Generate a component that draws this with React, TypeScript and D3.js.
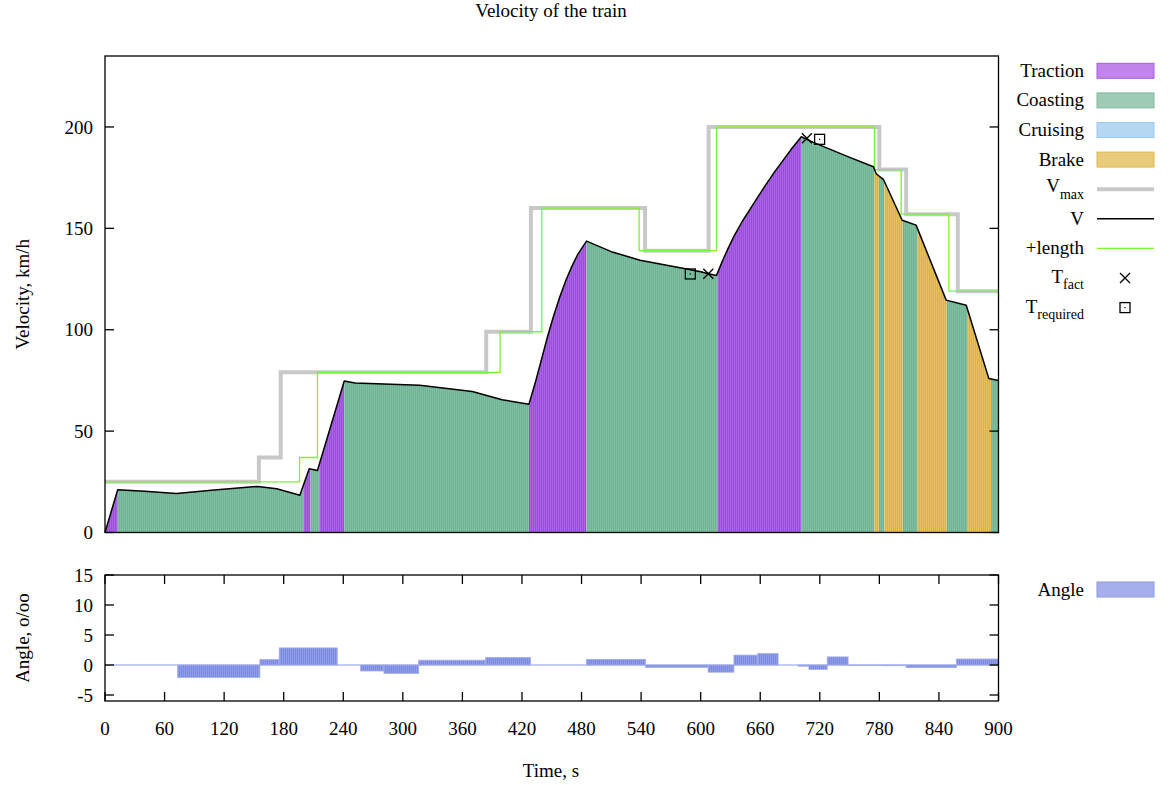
import * as d3 from "d3"

// axis ticks
const timeTicks = [0, 60, 120, 180, 240, 300, 360, 420, 480, 540, 600, 660, 720, 780, 840, 900]
const velTicks = [0, 50, 100, 150, 200]
const angleTicks = [-5, 0, 5, 10, 15]

// speed limit (step changes)
const vmaxT = [0, 155, 177, 384, 429, 544, 608, 780, 807, 859, 900]
const vmaxV = [25, 37, 79, 99, 160, 139, 200, 179, 157, 119, 119]

// speed limit shifted by train length
const lenT = [0, 196, 214, 398, 440, 538, 616, 775, 802, 850, 900]
const lenV = [25, 37, 79, 99, 160, 139, 200, 179, 157, 119, 119]

// train velocity
const speedT = [0, 12.8, 40, 72, 110, 154, 173, 196.3, 205.7, 214, 241, 252, 317, 370, 400, 427,
    434, 440, 446, 452, 458, 464, 470, 476, 485, 510, 539, 586, 600, 608, 616,
    622, 628, 634, 642, 650, 658, 666, 675, 683, 692, 701.4,
    713, 747, 774, 777, 784, 803, 817, 847.3, 867.5, 890.3, 900]
const speedV = [0, 21.1, 20.3, 19.2, 21, 22.7, 21.6, 18.4, 31.4, 30.6, 74.7, 73.7, 72.6, 69.5, 65.5, 63.2,
    75, 86, 97, 107, 116, 124, 131, 137, 143.7, 138.5, 134.3, 129.9, 128.6, 127.6, 126.8,
    134, 140.5, 146.5, 153.5, 159.6, 165.8, 171.8, 178.2, 183.5, 189.5, 195.2,
    192.5, 185.6, 180.4, 176.8, 174.2, 154, 151.6, 114.6, 112.1, 75.9, 75]

// driving modes
const phaseStart = [0, 12.8, 200, 207, 216, 241, 427, 485, 617, 701.4, 775, 779.5, 785, 803.5, 818.5, 848, 869, 892.5]
const phaseEnd = [12.8, 200, 207, 216, 241, 427, 485, 617, 701.4, 775, 779.5, 785, 803.5, 818.5, 848, 869, 892.5, 900]
const phaseKind = ["traction", "coasting", "traction", "coasting", "traction", "coasting", "traction", "coasting",
    "traction", "coasting", "brake", "coasting", "brake", "coasting", "brake", "coasting", "brake", "coasting"]

// stop times
const factT = [607.7, 707]
const factV = [127.6, 194.4]
const reqT = [589.6, 719.8]
const reqV = [127.5, 193.9]

// track gradient
const angleT = [0, 73, 156, 175.5, 234, 257.5, 281, 316, 383.5, 428.5, 485, 544.5, 607.5, 633.5, 657.5, 678,
    698, 709, 727.5, 748.5, 783.5, 807, 857.5, 900]
const angleV = [0, -2.1, 0.9, 2.85, 0, -1.0, -1.4, 0.8, 1.25, 0, 0.95, -0.4, -1.2, 1.65, 1.9, 0,
    -0.2, -0.75, 1.35, -0.05, -0.12, -0.45, 1.0]

const fills: Record<string, { base: string, stripe: string }> = {
    traction: { base: "#9b4fdc", stripe: "#a862e2" },
    coasting: { base: "#6fb494", stripe: "#7fbea1" },
    brake: { base: "#ddb243", stripe: "#e4c060" },
    angle: { base: "#7c8bdf", stripe: "#8f9de6" },
}

const legendBoxes = [
    { label: "Traction", fill: "#c084ea", stroke: "#a35ee0" },
    { label: "Coasting", fill: "#9fcbb6", stroke: "#80b99d" },
    { label: "Cruising", fill: "#b6d7f2", stroke: "#9ec8ee" },
    { label: "Brake", fill: "#e9cb7c", stroke: "#e0b74e" },
]

const FONT = "'Liberation Serif', 'Times New Roman', serif"

export default function App() {
    const W = 1170
    const H = 785
    const left = 105
    const right = 998.5
    const top1 = 56
    const bottom1 = 532.5
    const top2 = 575
    const bottom2 = 701

    const x = d3.scaleLinear([0, 900], [left, right])
    const yV = d3.scaleLinear([0, 235], [bottom1, top1])
    const yA = d3.scaleLinear([-6, 15], [bottom2, top2])

    const speedPts = speedT.map((t, i) => [t, speedV[i]] as [number, number])
    const speedLine = d3.line<[number, number]>().x(d => x(d[0])).y(d => yV(d[1]))
    const speedArea = d3.area<[number, number]>().x(d => x(d[0])).y0(yV(0)).y1(d => yV(d[1]))
    const stepLine = d3.line<[number, number]>().x(d => x(d[0])).y(d => yV(d[1])).curve(d3.curveStepAfter)
    const vmaxPts = vmaxT.map((t, i) => [t, vmaxV[i]] as [number, number])
    const lenPts = lenT.map((t, i) => [t, lenV[i]] as [number, number])

    const tick = 9
    const legX0 = 1097
    const legX1 = 1154
    const legTextX = 1084
    const rowY = (i: number) => 70.8 + 29.6 * i
    const yLabelX = 29

    const cross = (cx: number, cy: number, k: string) => (
        <path key={k} d={`M${cx - 5},${cy - 5}L${cx + 5},${cy + 5}M${cx - 5},${cy + 5}L${cx + 5},${cy - 5}`}
            stroke="#000" strokeWidth={1.3} fill="none" />
    )
    const square = (cx: number, cy: number, k: string) => (
        <g key={k}>
            <rect x={cx - 5} y={cy - 5} width={10} height={10} stroke="#000" strokeWidth={1.3} fill="none" />
            <rect x={cx - 0.6} y={cy - 0.6} width={1.2} height={1.2} fill="#000" />
        </g>
    )

    return (
        <svg width={W} height={H} style={{ position: "absolute", left: 0, top: 0, background: "#fff" }}
            fontFamily={FONT} fontSize={19}>
            <defs>
                {Object.entries(fills).map(([k, c]) => (
                    <pattern key={k} id={`pat-${k}`} width={2} height={4} patternUnits="userSpaceOnUse">
                        <rect width={2} height={4} fill={c.base} />
                        <rect width={1} height={4} fill={c.stripe} />
                    </pattern>
                ))}
                {phaseStart.map((s, i) => (
                    <clipPath key={i} id={`clip-${i}`}>
                        <rect x={x(s)} y={top1} width={x(phaseEnd[i]) - x(s)} height={bottom1 - top1} />
                    </clipPath>
                ))}
            </defs>

            <text x={551} y={17} textAnchor="middle">Velocity of the train</text>

            {/* velocity panel */}
            {phaseStart.map((_, i) => (
                <path key={i} d={speedArea(speedPts) ?? ""} fill={`url(#pat-${phaseKind[i]})`}
                    clipPath={`url(#clip-${i})`} />
            ))}
            <path d={stepLine(vmaxPts) ?? ""} fill="none" stroke="#c8c8c8" strokeWidth={4} />
            <path d={stepLine(lenPts) ?? ""} fill="none" stroke="#7ff03a" strokeWidth={1.3} />
            <path d={speedLine(speedPts) ?? ""} fill="none" stroke="#000" strokeWidth={1.5} strokeLinejoin="round" />
            {factT.map((t, i) => cross(x(t), yV(factV[i]), `f${i}`))}
            {reqT.map((t, i) => square(x(t), yV(reqV[i]), `r${i}`))}

            <rect x={left} y={top1} width={right - left} height={bottom1 - top1} fill="none" stroke="#000" strokeWidth={1.3} />
            {velTicks.map(v => (
                <g key={v}>
                    <line x1={left} x2={left + tick} y1={yV(v)} y2={yV(v)} stroke="#000" strokeWidth={1.3} />
                    <line x1={right} x2={right - tick} y1={yV(v)} y2={yV(v)} stroke="#000" strokeWidth={1.3} />
                    <text x={93} y={yV(v)} dy="0.35em" textAnchor="end">{v}</text>
                </g>
            ))}
            <text transform={`translate(${yLabelX},${(top1 + bottom1) / 2}) rotate(-90)`} textAnchor="middle">Velocity, km/h</text>

            {/* angle panel */}
            <line x1={left} x2={right} y1={yA(0)} y2={yA(0)} stroke="#8d9ae4" strokeWidth={1} />
            {angleV.map((v, i) => v === 0 ? null : (
                <rect key={i} x={x(angleT[i])} width={x(angleT[i + 1]) - x(angleT[i])}
                    y={Math.min(yA(0), yA(v))} height={Math.abs(yA(v) - yA(0))}
                    fill="url(#pat-angle)" stroke="#a4adec" strokeWidth={0.8} />
            ))}
            <rect x={left} y={top2} width={right - left} height={bottom2 - top2} fill="none" stroke="#000" strokeWidth={1.3} />
            {angleTicks.map(v => (
                <g key={v}>
                    <line x1={left} x2={left + tick} y1={yA(v)} y2={yA(v)} stroke="#000" strokeWidth={1.3} />
                    <line x1={right} x2={right - tick} y1={yA(v)} y2={yA(v)} stroke="#000" strokeWidth={1.3} />
                    <text x={93} y={yA(v)} dy="0.35em" textAnchor="end">{v}</text>
                </g>
            ))}
            {timeTicks.map(t => (
                <g key={t}>
                    <line x1={x(t)} x2={x(t)} y1={top2} y2={top2 + tick} stroke="#000" strokeWidth={1.3} />
                    <line x1={x(t)} x2={x(t)} y1={bottom2} y2={bottom2 - tick} stroke="#000" strokeWidth={1.3} />
                    <text x={x(t)} y={735} textAnchor="middle">{t}</text>
                </g>
            ))}
            <text transform={`translate(${yLabelX},${(top2 + bottom2) / 2}) rotate(-90)`} textAnchor="middle">Angle, o/oo</text>
            <text x={551} y={777} textAnchor="middle">Time, s</text>

            {/* legend */}
            {legendBoxes.map((b, i) => (
                <g key={b.label}>
                    <text x={legTextX} y={rowY(i) + 6} textAnchor="end">{b.label}</text>
                    <rect x={legX0} y={rowY(i) - 7.5} width={legX1 - legX0} height={15}
                        fill={b.fill} stroke={b.stroke} strokeWidth={1} />
                </g>
            ))}
            <text x={legTextX} y={rowY(4) + 3} textAnchor="end">V<tspan dy={7} fontSize={14}>max</tspan></text>
            <line x1={legX0} x2={legX1} y1={rowY(4)} y2={rowY(4)} stroke="#c8c8c8" strokeWidth={4} />
            <text x={legTextX} y={rowY(5) + 6} textAnchor="end">V</text>
            <line x1={legX0} x2={legX1} y1={rowY(5)} y2={rowY(5)} stroke="#000" strokeWidth={1.5} />
            <text x={legTextX} y={rowY(6) + 6} textAnchor="end">+length</text>
            <line x1={legX0} x2={legX1} y1={rowY(6)} y2={rowY(6)} stroke="#7ff03a" strokeWidth={1.3} />
            <text x={legTextX} y={rowY(7) + 5} textAnchor="end">T<tspan dy={6} fontSize={14}>fact</tspan></text>
            {cross(1125, rowY(7), "lf")}
            <text x={legTextX} y={rowY(8) + 5} textAnchor="end">T<tspan dy={6} fontSize={14}>required</tspan></text>
            {square(1125, rowY(8), "lr")}

            <text x={legTextX} y={589.5 + 6} textAnchor="end">Angle</text>
            <rect x={legX0} y={582} width={legX1 - legX0} height={15} fill="#a7afea" stroke="#8c98e2" strokeWidth={1} />
        </svg>
    )
}
